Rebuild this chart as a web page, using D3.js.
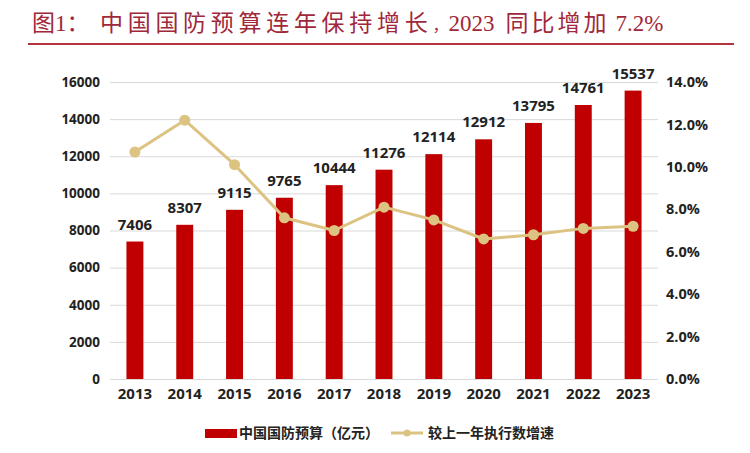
<!DOCTYPE html>
<html>
<head>
<meta charset="utf-8">
<script src="https://cdn.jsdelivr.net/npm/d3@7"></script>
<style>
  html, body { margin: 0; padding: 0; background: #fff; }
  svg { display: block; }
  .tick text { font-family: "Open Sans", "Noto Sans", sans-serif; font-weight: 700; fill: #222; }
</style>
</head>
<body>
<svg id="chart" width="750" height="453"></svg>
<script>
const years = ["2013","2014","2015","2016","2017","2018","2019","2020","2021","2022","2023"];
const budget = [7406, 8307, 9115, 9765, 10444, 11276, 12114, 12912, 13795, 14761, 15537];
const growth = [10.7, 12.2, 10.1, 7.6, 7.0, 8.1, 7.5, 6.6, 6.8, 7.1, 7.2];
const leftTicks = [0, 2000, 4000, 6000, 8000, 10000, 12000, 14000, 16000];
const rightTicks = [0, 2, 4, 6, 8, 10, 12, 14];
const seriesNames = ["中国国防预算（亿元）", "较上一年执行数增速"];

const svg = d3.select("#chart");
const plot = { left: 110, right: 658, top: 82, bottom: 379 };
const barColor = "#c00000";
const lineColor = "#dcc382";
const titleColor = "#a0283a";

// Title (one text flow)
const title = svg.append("text")
  .attr("x", 32).attr("y", 31)
  .attr("fill", titleColor)
  .style("font-size", "23px")
  .style("font-family", "'Liberation Serif', 'Noto Sans CJK SC', serif");
title.append("tspan").text("图1：");
title.append("tspan").attr("dx", 10.5).style("letter-spacing", "4.7px").text("中国国防预算连年保持增长");
title.append("tspan").style("font-size", "16px").text("，");
title.append("tspan").text("2023");
title.append("tspan").attr("dx", 11).style("letter-spacing", "3px").text("同比增加");
title.append("tspan").attr("dx", 6).text("7.2%");

svg.append("line")
  .attr("x1", 28).attr("x2", 734).attr("y1", 44).attr("y2", 44)
  .attr("stroke", "#b3333f").attr("stroke-width", 2);

// Scales
const x = d3.scaleBand().domain(years).range([plot.left, plot.right])
  .paddingInner(0.66).paddingOuter(0.33);
const yL = d3.scaleLinear().domain([0, 16000]).range([plot.bottom, plot.top]);
const yR = d3.scaleLinear().domain([0, 14]).range([plot.bottom, plot.top]);

// Gridlines
const grid = svg.append("g").attr("transform", `translate(${plot.left},0)`)
  .call(d3.axisLeft(yL).tickValues(leftTicks).tickSize(-(plot.right - plot.left)).tickFormat(""));
grid.select(".domain").remove();
grid.selectAll(".tick line").attr("stroke", "#d9d9d9").attr("stroke-width", 1);

// Left axis labels
const la = svg.append("g").attr("transform", `translate(${plot.left - 10},0)`)
  .call(d3.axisLeft(yL).tickValues(leftTicks).tickSize(0).tickPadding(0).tickFormat(d3.format("d")));
la.select(".domain").remove();
la.selectAll(".tick text").style("font-size", "13.5px");

// Right axis labels
const ra = svg.append("g").attr("transform", `translate(${plot.right + 8},0)`)
  .call(d3.axisRight(yR).tickValues(rightTicks).tickSize(0).tickPadding(0).tickFormat(d => d.toFixed(1) + "%"));
ra.select(".domain").remove();
ra.selectAll(".tick text").style("font-size", "14.5px");

// Bottom axis labels
const ba = svg.append("g").attr("transform", `translate(0,${plot.bottom + 9})`)
  .call(d3.axisBottom(x).tickSize(0).tickPadding(0));
ba.select(".domain").remove();
ba.selectAll(".tick text").style("font-size", "15px").attr("dy", "0.75em");

// Bars
svg.append("g").selectAll("rect").data(budget).join("rect")
  .attr("x", (d, i) => x(years[i]))
  .attr("width", x.bandwidth())
  .attr("y", d => yL(d))
  .attr("height", d => yL(0) - yL(d))
  .attr("fill", barColor);

// Bar labels
svg.append("g").selectAll("text").data(budget).join("text")
  .attr("x", (d, i) => x(years[i]) + x.bandwidth() / 2)
  .attr("y", d => yL(d) - 12)
  .attr("text-anchor", "middle")
  .style("font-family", "'Open Sans', 'Noto Sans', sans-serif")
  .style("font-weight", 700)
  .style("font-size", "15px")
  .attr("fill", "#222")
  .text(d => d);

// Line
const cx = (d, i) => x(years[i]) + x.bandwidth() / 2;
svg.append("path").datum(growth)
  .attr("fill", "none").attr("stroke", lineColor).attr("stroke-width", 3)
  .attr("stroke-linejoin", "round")
  .attr("d", d3.line().x(cx).y(d => yR(d)));
svg.append("g").selectAll("circle").data(growth).join("circle")
  .attr("cx", cx).attr("cy", d => yR(d)).attr("r", 5.5)
  .attr("fill", lineColor);

// Legend
const lg = svg.append("g");
lg.append("rect").attr("x", 205).attr("y", 429).attr("width", 32).attr("height", 9).attr("fill", barColor);
lg.append("text").attr("x", 239).attr("y", 433).attr("dy", "0.35em")
  .style("font-family", "'Noto Sans CJK SC', sans-serif").style("font-weight", 700).style("font-size", "14px")
  .attr("fill", "#222").text(seriesNames[0]);
lg.append("line").attr("x1", 391).attr("x2", 423).attr("y1", 433).attr("y2", 433)
  .attr("stroke", lineColor).attr("stroke-width", 3);
lg.append("circle").attr("cx", 407).attr("cy", 433).attr("r", 3.5).attr("fill", lineColor);
lg.append("text").attr("x", 428).attr("y", 433).attr("dy", "0.35em")
  .style("font-family", "'Noto Sans CJK SC', sans-serif").style("font-weight", 700).style("font-size", "14px")
  .attr("fill", "#222").text(seriesNames[1]);
</script>
</body>
</html>
